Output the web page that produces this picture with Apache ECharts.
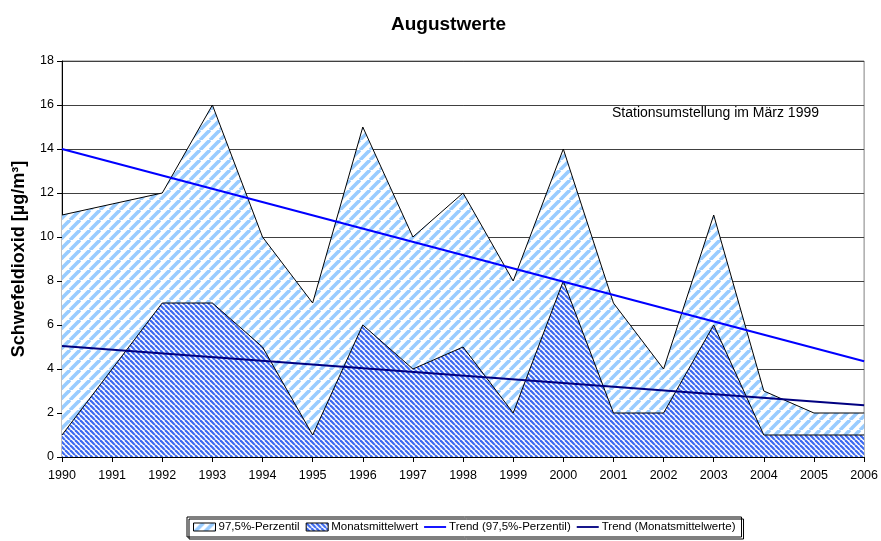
<!DOCTYPE html>
<html>
<head>
<meta charset="utf-8">
<script src="https://cdn.jsdelivr.net/npm/echarts@6/dist/echarts.min.js"></script>
<style>
  html, body { margin: 0; padding: 0; background: #fff; }
  #chart { width: 881px; height: 541px; }
</style>
</head>
<body>
<div id="chart"></div>
<script>
const years = ['1990', '1991', '1992', '1993', '1994', '1995', '1996', '1997', '1998',
  '1999', '2000', '2001', '2002', '2003', '2004', '2005', '2006'];
const perzentil = [11, 11.5, 12, 16, 10, 7, 15, 10, 12, 8, 14, 7, 4, 11, 3, 2, 2];
const monatsmittel = [1, 4, 7, 7, 5, 1, 6, 4, 5, 2, 8, 2, 2, 6, 1, 1, 1];
const trendPerzentil = [14.0, null, null, null, null, null, null, null, null,
  null, null, null, null, null, null, null, 4.35];
const trendMonats = [5.05, null, null, null, null, null, null, null, null,
  null, null, null, null, null, null, null, 2.35];

// diagonal stripe tile
function stripes(p, lw, color, up) {
  const c = document.createElement('canvas');
  c.width = p; c.height = p;
  const ctx = c.getContext('2d');
  ctx.fillStyle = '#fff';
  ctx.fillRect(0, 0, p, p);
  ctx.strokeStyle = color;
  ctx.lineWidth = lw;
  for (let k = -1; k <= 1; k++) {
    ctx.beginPath();
    if (up) {
      ctx.moveTo(k * p, p); ctx.lineTo(k * p + p, 0);
    } else {
      ctx.moveTo(k * p, 0); ctx.lineTo(k * p + p, p);
    }
    ctx.stroke();
  }
  return { image: c, repeat: 'repeat' };
}

const lightPattern = stripes(10, 3.6, '#99ccff', true);
const darkPattern = stripes(5, 2.2, '#3d6af0', false);
const lineIcon = 'path://M0,0 H24 V2 H0 Z';

const chart = echarts.init(document.getElementById('chart'));
const font = 'Liberation Sans, Arial, sans-serif';

chart.setOption({
  animation: false,
  textStyle: { fontFamily: font },
  title: {
    text: 'Augustwerte',
    left: 386,
    top: 10,
    textStyle: { fontSize: 19, fontWeight: 'bold', color: '#000', fontFamily: font }
  },
  grid: {
    left: 62, right: 16, top: 61, bottom: 84,
    show: true, borderColor: '#808080', borderWidth: 1
  },
  legend: {
    bottom: 4,
    left: 187,
    padding: [4, 6],
    borderColor: '#000',
    borderWidth: 1,
    shadowColor: '#000',
    shadowOffsetX: 2,
    shadowOffsetY: 2,
    itemGap: 6,
    itemWidth: 22,
    itemHeight: 8,
    textStyle: { fontSize: 11.5, color: '#000', fontFamily: font, padding: [0, 0, 0, -2] },
    data: [
      { name: '97,5%-Perzentil', icon: 'rect', itemStyle: { color: lightPattern, borderColor: '#000', borderWidth: 1 } },
      { name: 'Monatsmittelwert', icon: 'rect', itemStyle: { color: darkPattern, borderColor: '#000', borderWidth: 1 } },
      { name: 'Trend (97,5%-Perzentil)', icon: lineIcon, itemStyle: { color: '#0000ff' } },
      { name: 'Trend (Monatsmittelwerte)', icon: lineIcon, itemStyle: { color: '#000080' } }
    ]
  },
  xAxis: {
    type: 'category',
    data: years,
    boundaryGap: false,
    axisLine: { lineStyle: { color: '#000', width: 1 } },
    axisTick: { show: true, length: 5, lineStyle: { color: '#000' } },
    axisLabel: { color: '#000', fontSize: 12.5, margin: 12 },
    splitLine: { show: false }
  },
  yAxis: {
    type: 'value',
    min: 0, max: 18, interval: 2,
    name: 'Schwefeldioxid [µg/m³]',
    nameLocation: 'middle',
    nameGap: 34,
    nameTextStyle: { fontSize: 18, fontWeight: 'bold', color: '#000', fontFamily: font },
    axisLine: { show: true, lineStyle: { color: '#000', width: 1 } },
    axisTick: { show: true, length: 5, lineStyle: { color: '#000' } },
    axisLabel: { color: '#000', fontSize: 12.5, margin: 8 },
    splitLine: { show: true, lineStyle: { color: '#404040', width: 1 } }
  },
  graphic: [{
    type: 'text',
    left: 612,
    top: 106,
    style: { text: 'Stationsumstellung im März 1999', fontSize: 14, fill: '#000', fontFamily: font }
  }],
  series: [
    {
      name: '97,5%-Perzentil',
      type: 'line',
      data: perzentil,
      symbol: 'none',
      lineStyle: { color: '#000', width: 1 },
      itemStyle: { color: lightPattern },
      areaStyle: { color: lightPattern, opacity: 1, origin: 'start' },
      z: 1
    },
    {
      name: 'Monatsmittelwert',
      type: 'line',
      data: monatsmittel,
      symbol: 'none',
      lineStyle: { color: '#000', width: 1 },
      itemStyle: { color: darkPattern },
      areaStyle: { color: darkPattern, opacity: 1, origin: 'start' },
      z: 2
    },
    {
      name: 'Trend (97,5%-Perzentil)',
      type: 'line',
      data: trendPerzentil,
      connectNulls: true,
      symbol: 'none',
      lineStyle: { color: '#0000ff', width: 2 },
      itemStyle: { color: '#0000ff' },
      z: 3
    },
    {
      name: 'Trend (Monatsmittelwerte)',
      type: 'line',
      data: trendMonats,
      connectNulls: true,
      symbol: 'none',
      lineStyle: { color: '#000080', width: 2 },
      itemStyle: { color: '#000080' },
      z: 3
    }
  ]
});
</script>
</body>
</html>
